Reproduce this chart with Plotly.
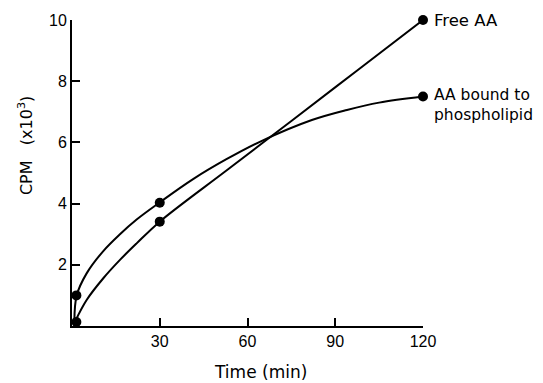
import plotly.graph_objects as go

# measured data points (time in min, CPM x10^3)
time_points = [1.5, 30, 120]
free_aa = [0.13, 3.41, 10.0]
bound_aa = [1.0, 4.03, 7.5]

# hand-drawn smooth curves
free_curve_t = [1.0, 5, 10.7, 16.4, 22.1, 30, 52.8, 75, 97.5, 120]
free_curve_y = [0.14, 0.85, 1.56, 2.16, 2.70, 3.41, 5.08, 6.7, 8.35, 10.0]
bound_curve_t = [0.8, 1.6, 5, 10.7, 16.4, 22.1, 30, 41.4, 52.8, 64.2, 82, 94, 105, 120]
bound_curve_y = [0.14, 1.0, 1.72, 2.45, 3.0, 3.48, 4.04, 4.8, 5.45, 6.02, 6.73, 7.06, 7.3, 7.5]

x_ticks = [30, 60, 90, 120]
y_ticks = [2, 4, 6, 8, 10]

TICK_FONT = "Liberation Sans"
TEXT_FONT = "DejaVu Sans"
NB = "\u00a0"

fig = go.Figure()
for xs, ys in [(free_curve_t, free_curve_y), (bound_curve_t, bound_curve_y)]:
    fig.add_trace(go.Scatter(x=xs, y=ys, mode="lines",
                             line=dict(color="black", width=2, shape="spline", smoothing=1.0),
                             cliponaxis=False, hoverinfo="skip"))
for ys in [free_aa, bound_aa]:
    fig.add_trace(go.Scatter(x=time_points, y=ys, mode="markers",
                             marker=dict(color="black", size=10), cliponaxis=False))

fig.add_annotation(x=time_points[-1], y=free_aa[-1], text="Free AA", showarrow=False,
                   xanchor="left", yanchor="middle", xshift=9,
                   font=dict(family=TEXT_FONT, size=16.5, color="black"), align="left")
fig.add_annotation(x=time_points[-1], y=bound_aa[-1], text="AA bound to<br>phospholipid",
                   showarrow=False, xanchor="left", yanchor="top", xshift=9, yshift=13,
                   font=dict(family=TEXT_FONT, size=15.5, color="black"), align="left")

# axis titles
fig.add_annotation(xref="paper", yref="paper", x=0, y=0.588, xshift=-47,
                   text="CPM" + NB * 3 + "(x10<sup>3</sup>)", textangle=-90, showarrow=False,
                   xanchor="center", yanchor="middle",
                   font=dict(family=TEXT_FONT, size=16, color="black"))
fig.add_annotation(xref="paper", yref="paper", x=0.538, y=0, yshift=-46,
                   text="Time (min)", showarrow=False, xanchor="center", yanchor="middle",
                   font=dict(family=TEXT_FONT, size=17, color="black"))

axis_common = dict(ticks="inside", ticklen=8, tickwidth=1.5, tickcolor="black",
                   showline=True, linecolor="black", linewidth=2, showgrid=False,
                   zeroline=False, automargin=False,
                   tickfont=dict(size=16, family=TICK_FONT, color="black"))

# page body adds an 8px offset; figure is sized to fill the rest of the window
fig.update_layout(
    width=535, height=375,
    margin=dict(l=64, r=120, t=12, b=57),
    paper_bgcolor="white", plot_bgcolor="white",
    showlegend=False,
    xaxis=dict(range=[0, 120], tickvals=x_ticks, ticktext=[str(v) for v in x_ticks],
               **axis_common),
    yaxis=dict(range=[0, 10], tickvals=y_ticks, ticktext=[str(v) for v in y_ticks],
               **axis_common),
)

fig.write_html("out.html")
